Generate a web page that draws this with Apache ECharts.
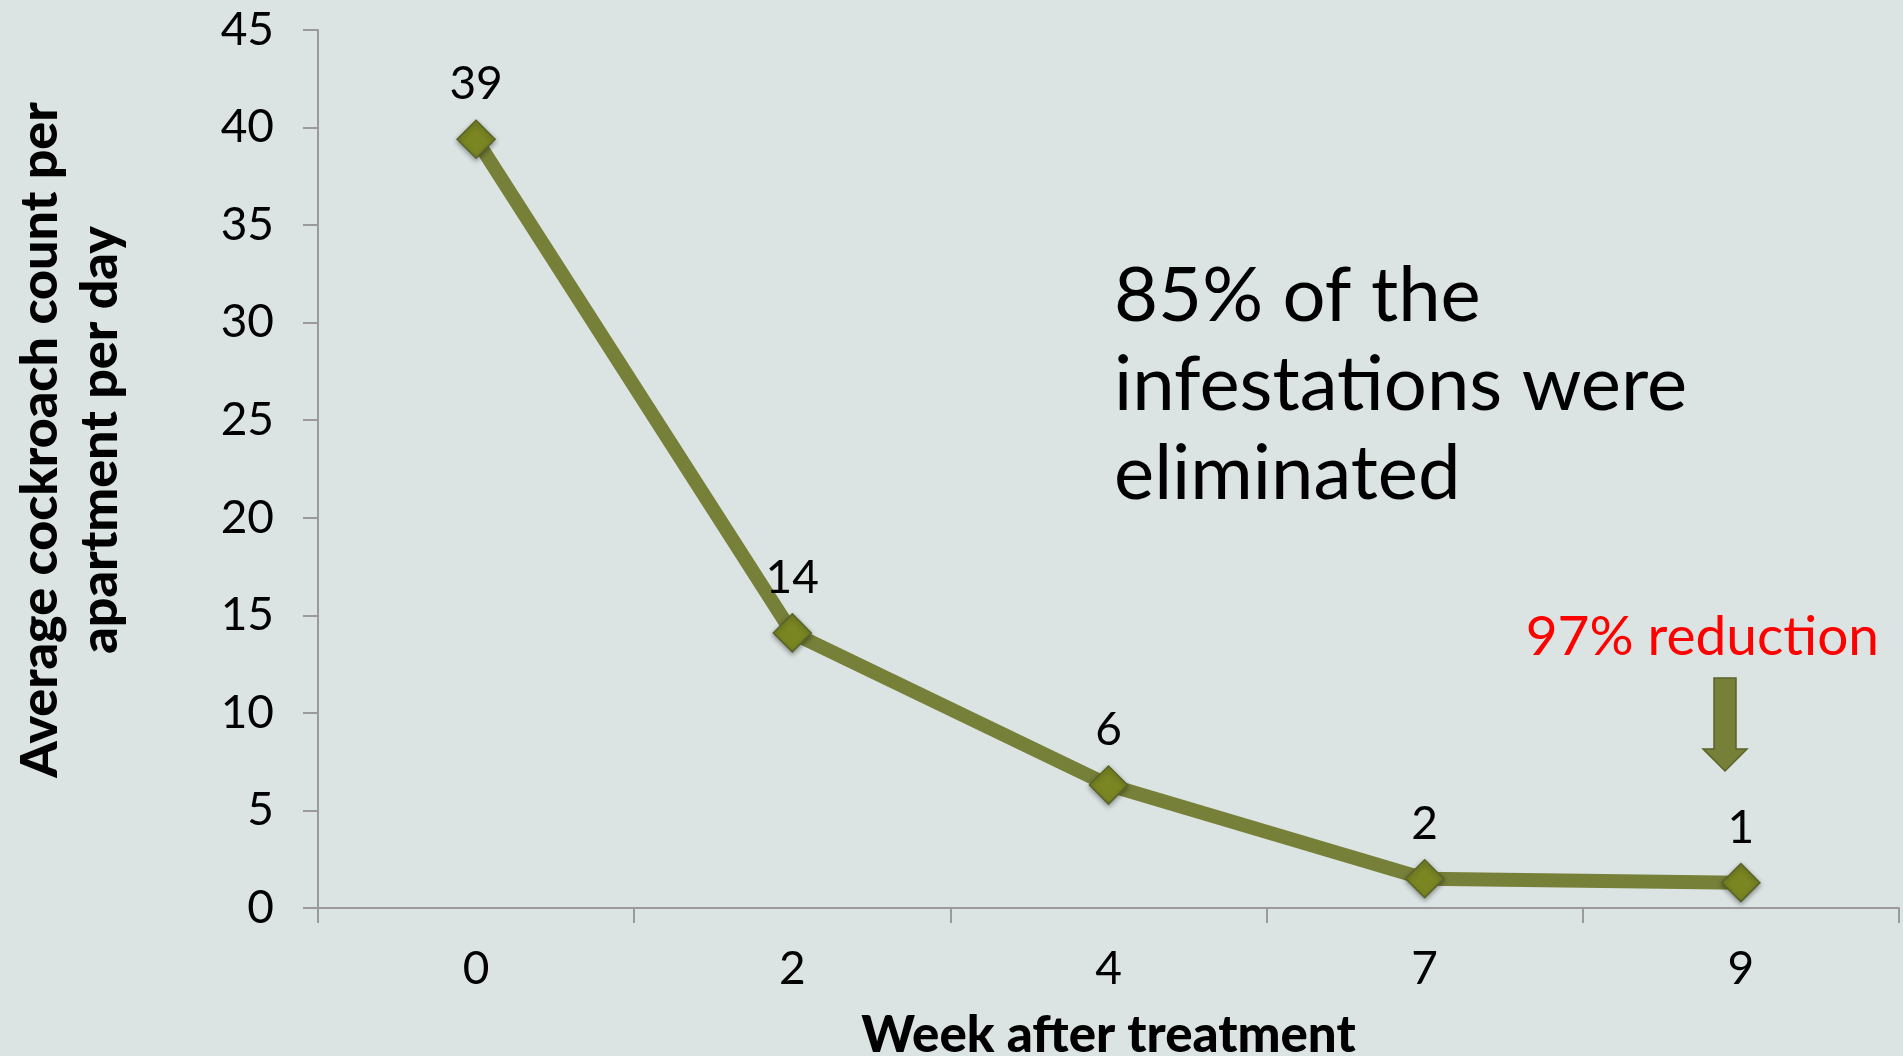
<!DOCTYPE html>
<html>
<head>
<meta charset="utf-8">
<script src="https://cdn.jsdelivr.net/npm/echarts@6/dist/echarts.min.js"></script>
<style>
  html, body { margin: 0; padding: 0; background: #dbe3e3; }
  #chart { width: 1903px; height: 1056px; }
</style>
</head>
<body>
<div id="chart"></div>
<script>
const weeks = ['0', '2', '4', '7', '9'];
const counts = [39.4, 14.1, 6.3, 1.5, 1.3];
const pointLabels = ['39', '14', '6', '2', '1'];
const yMin = 0, yMax = 45, yStep = 5;
const yTitle = 'Average cockroach count per\napartment per day';
const xTitle = 'Week after treatment';
const noteText = '85% of the\ninfestations were\neliminated';
const reductionText = '97% reduction';

const FONT = 'Lato, "Noto Sans", sans-serif';
const chart = echarts.init(document.getElementById('chart'), null, { renderer: 'canvas' });

chart.setOption({
  backgroundColor: '#dbe3e3',
  animation: false,
  grid: { left: 318, right: 4, top: 30, bottom: 148, containLabel: false, outerBoundsMode: 'none' },
  xAxis: {
    type: 'category',
    data: weeks,
    boundaryGap: true,
    axisLine: { lineStyle: { color: '#9a9a9a', width: 2 } },
    axisTick: { show: true, length: 15, lineStyle: { color: '#9a9a9a', width: 2 } },
    axisLabel: { color: '#000', fontFamily: FONT, fontSize: 46, margin: 38 },
    name: xTitle,
    nameLocation: 'middle',
    nameGap: 102,
    nameTextStyle: { color: '#000', fontFamily: FONT, fontWeight: 900, fontSize: 51 }
  },
  yAxis: {
    type: 'value',
    min: yMin, max: yMax, interval: yStep,
    splitLine: { show: false },
    axisLine: { show: true, lineStyle: { color: '#9a9a9a', width: 2 } },
    axisTick: { show: true, length: 15, lineStyle: { color: '#9a9a9a', width: 2 } },
    axisLabel: { color: '#000', fontFamily: FONT, fontSize: 46, margin: 44 },
    name: yTitle,
    nameLocation: 'middle',
    nameGap: 188,
    nameRotate: 90,
    nameTextStyle: { color: '#000', fontFamily: FONT, fontWeight: 900, fontSize: 52, lineHeight: 60, padding: [0, 0, 0, 58] }
  },
  series: [{
    type: 'line',
    data: counts,
    symbol: 'diamond',
    symbolSize: 38,
    lineStyle: { color: '#778038', width: 14 },
    itemStyle: {
      color: '#7a8622', borderColor: '#59632a', borderWidth: 1.5,
      shadowBlur: 5, shadowColor: 'rgba(0,0,0,0.35)', shadowOffsetY: 2
    },
    label: {
      show: true, position: 'top', distance: 12,
      color: '#000', fontFamily: FONT, fontSize: 46,
      formatter: p => pointLabels[p.dataIndex]
    }
  }],
  graphic: [
    {
      type: 'text', left: 1114, top: 252,
      style: { text: noteText, fill: '#000', font: '76px ' + FONT, lineHeight: 89 }
    },
    {
      type: 'text', right: 24, top: 610,
      style: { text: reductionText, fill: '#ff0000', font: '55px ' + FONT }
    },
    {
      type: 'polygon',
      shape: { points: [[1714,678],[1736,678],[1736,749],[1747,749],[1725,771],[1703,749],[1714,749]] },
      style: { fill: '#778038', stroke: '#5a6328', lineWidth: 1.5 }
    }
  ]
});
</script>
</body>
</html>
